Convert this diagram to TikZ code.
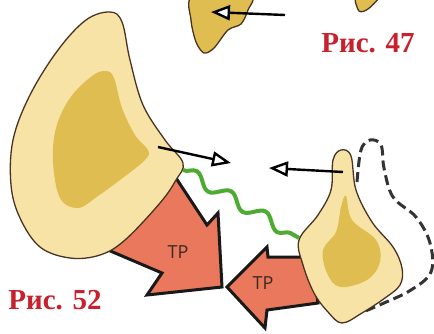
\documentclass[tikz,border=0pt]{standalone}
\usepackage{fontspec}
\setmainfont{Liberation Serif}
\newfontfamily\tagfont{Open Sans}
\usetikzlibrary{arrows.meta, decorations.pathmorphing}

\definecolor{boneLight}{HTML}{F8E3A6}
\definecolor{boneDark}{HTML}{E0BD50}
\definecolor{rimBrown}{HTML}{4A3322}
\definecolor{pushRed}{HTML}{E9785C}
\definecolor{tagInk}{HTML}{3A2A22}
\definecolor{figRed}{HTML}{C8202C}
\definecolor{springGreen}{HTML}{4DAA32}

\begin{document}
\begin{tikzpicture}[x=1pt, y=-1pt,
  bone/.style={draw=rimBrown, line width=1.3pt, fill=boneLight},
  core/.style={fill=boneDark},
  darkbone/.style={draw=rimBrown, line width=1.3pt, fill=boneDark},
  push/.style={draw=black!90, line width=3pt, fill=pushRed, line join=miter},
  move/.style={line width=2.4pt, -{Triangle[fill=white, length=19pt, width=15pt]}},
  tag/.style={font=\tagfont\fontsize{18}{18}\selectfont, text=tagInk},
  figlabel/.style={font=\bfseries\fontsize{29}{29}\selectfont, text=figRed},
  wave/.style={draw=springGreen, line width=4pt, decorate,
    decoration={snake, segment length=40pt, amplitude=6pt}},
  contour/.style={draw=black!80, line width=3pt, dash pattern=on 10pt off 5pt}
]
\useasboundingbox (0,0) rectangle (434,333);
\clip (0,0) rectangle (434,333);

% top fragments
\draw[darkbone] plot[smooth cycle] coordinates {(193,-4) (191,20) (196,42) (204,53) (214,48) (228,30) (241,24) (248,10) (250,-4)};
\draw[darkbone] plot[smooth cycle] coordinates {(356,-4) (359,11) (368,9) (379,-4)};

% arrows
\coordinate (topFrom) at (285,15);
\coordinate (topTo) at (211,12);
\draw[move] (topFrom) -- (topTo);

% pushing arrows
\draw[push] (108,250) -- (176,178) -- (207,225) -- (218,213) -- (222,287)
  -- (147,295) -- (162,273) -- cycle;
\draw[push] (227,287) -- (267,247) -- (268,257) -- (312,257) -- (318,303)
  -- (267,310) -- (265,328) -- cycle;

% big bone
\draw[bone] plot[smooth cycle, tension=0.6] coordinates {(110,12) (122,22) (130,60) (143,105)
  (165,140) (183,163) (176,180) (160,203) (125,240) (100,255) (70,258) (40,247) (20,218)
  (11,185) (13,140) (30,95) (58,50) (86,20)};
\fill[core] plot[smooth cycle, tension=0.6] coordinates {(106,71) (114,78) (122,108) (135,135)
  (148,150) (145,160) (120,180) (98,196) (78,208) (60,198) (53,162) (56,128) (70,98) (92,76)};

% small bone and its contour
\draw[contour] plot[smooth, tension=0.6] coordinates {(357,182) (361,150) (370,140) (381,145)
  (384,168) (393,197) (416,217) (430,243) (431,272) (411,290) (384,303) (363,312)};
\draw[bone] plot[smooth cycle, tension=0.6] coordinates {(341,150) (351,156) (356,190) (372,222)
  (393,247) (402,268) (400,285) (385,298) (362,313) (342,323) (328,312) (314,293) (303,265)
  (299,240) (318,215) (331,190) (333,160)};
\fill[core] plot[smooth cycle, tension=0.6] coordinates {(346,196) (352,220) (376,240) (380,262)
  (367,280) (340,287) (327,273) (323,250) (336,232) (341,207)};

% spring between the bones
\coordinate (waveFrom) at (183,170);
\coordinate (waveTo) at (299,238);
\draw[wave] (waveFrom) -- (waveTo);

\coordinate (leftFrom) at (158,147);
\coordinate (leftTo) at (231,163);
\draw[move] (leftFrom) -- (leftTo);
\coordinate (rightFrom) at (343,172);
\coordinate (rightTo) at (269,168);
\draw[move] (rightFrom) -- (rightTo);

% labels
\node[tag] (tagBig) at (178,252) {ТР};
\node[tag] (tagSmall) at (263,283) {ТР};
\node[figlabel] (figTop) at (368,43) {Рис. 47};
\node[figlabel] (figBottom) at (55,300) {Рис. 52};
\end{tikzpicture}
\end{document}
